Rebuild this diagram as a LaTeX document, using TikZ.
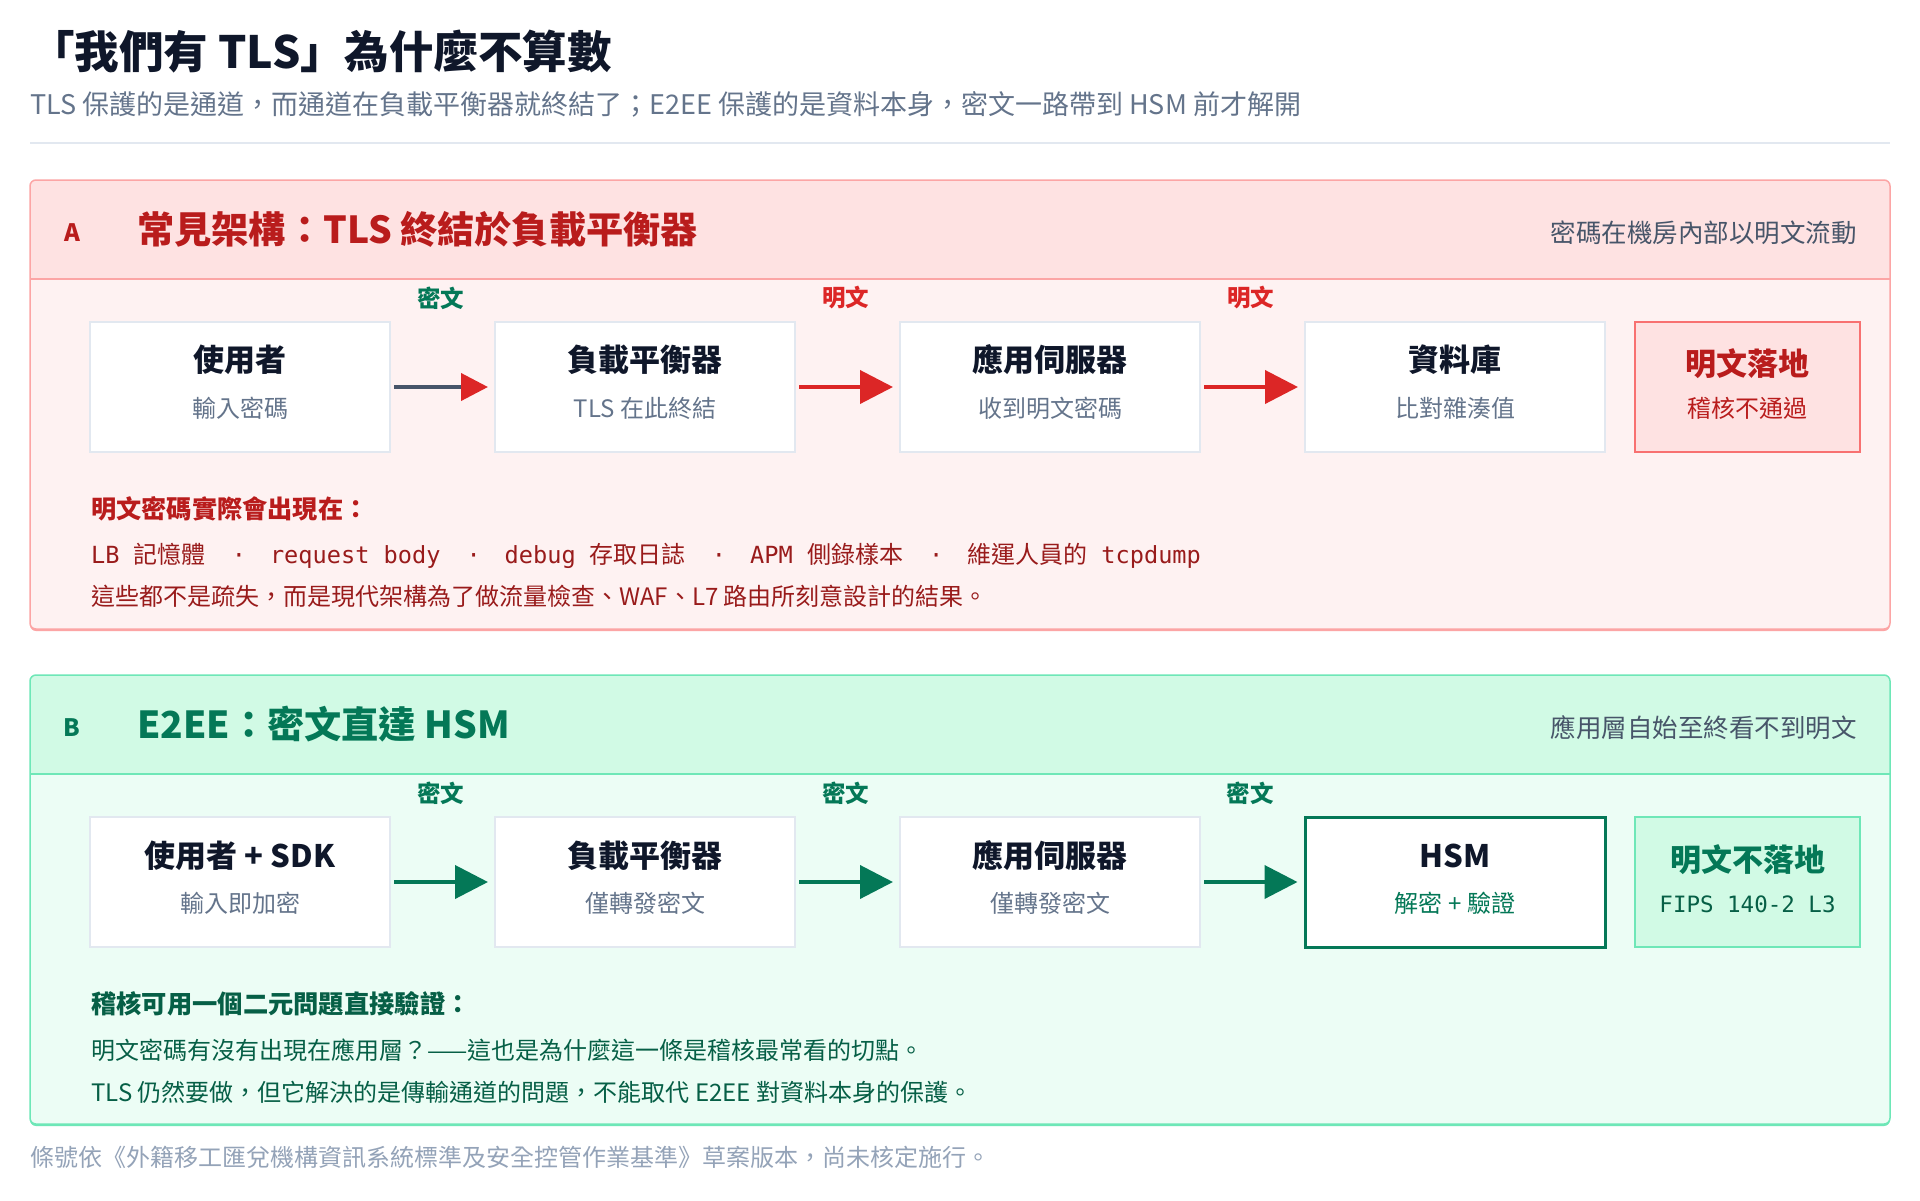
\documentclass[tikz,border=0pt]{standalone}
\usepackage{fontspec}
\setmainfont{Noto Sans CJK TC}
\newfontfamily\monof{DejaVu Sans Mono}
\usetikzlibrary{arrows.meta,calc}
\definecolor{ink}{HTML}{0F172A}
\definecolor{slate}{HTML}{64748B}
\definecolor{slatedk}{HTML}{475569}
\definecolor{rulec}{HTML}{E2E8F0}
\definecolor{boxline}{HTML}{E2E8F0}
\definecolor{redborder}{HTML}{FCA5A5}
\definecolor{redhead}{HTML}{FEE2E2}
\definecolor{redbody}{HTML}{FEF2F2}
\definecolor{redtitle}{HTML}{B91C1C}
\definecolor{redarrow}{HTML}{DC2626}
\definecolor{redtext}{HTML}{991B1B}
\definecolor{redline}{HTML}{F87171}
\definecolor{grnborder}{HTML}{6EE7B7}
\definecolor{grnhead}{HTML}{D1FAE5}
\definecolor{grnbody}{HTML}{ECFDF5}
\definecolor{grn}{HTML}{047857}
\definecolor{grntext}{HTML}{065F46}
\definecolor{footc}{HTML}{94A3B8}
\newcommand\myfs[1]{\fontsize{#1pt}{#1pt}\selectfont}
\newcommand\cj[1]{{\rmfamily\myfs{24}#1}}
\newcommand\msep{\hspace{26pt}·\hspace{24pt}}
\begin{document}
\begin{tikzpicture}[x=1pt,y=-1pt,
  every node/.style={inner sep=0pt},
  tx/.style={anchor=west},
  flowbox/.style={draw=boxline, line width=2pt, fill=white, minimum width=300pt, minimum height=130pt},
  redside/.style={draw=redline, line width=2pt, fill=redhead, minimum width=225pt, minimum height=130pt},
  hsmbox/.style={draw=grn, line width=3pt, fill=white, minimum width=300pt, minimum height=130pt},
  grnside/.style={draw=grnborder, line width=2.5pt, fill=grnhead, minimum width=225pt, minimum height=130pt},
  btitle/.style={font=\bfseries\myfs{31}, text=ink},
  bsub/.style={font=\myfs{24}, text=slate},
  flow/.style={line width=4pt, shorten <=3pt, shorten >=6pt},
  bighead/.style={-{Triangle[length=33pt,width=33pt]}},
  lbl/.style={font=\bfseries\myfs{23.5}},
  hdtitle/.style={tx, font=\bfseries\myfs{37.2}},
  hdnote/.style={anchor=east, font=\myfs{25.5}, text=slatedk},
  hdlab/.style={font=\bfseries\myfs{24}}
]
\useasboundingbox[fill=white] (0,0) rectangle (1920,1200);

% heading
\node[tx, font=\bfseries\myfs{44.5}, text=ink] (title) at (30,52) {「我們有 TLS」為什麼不算數};
\node[tx, font=\myfs{27}, text=slate] (subtitle) at (30,104) {TLS 保護的是通道，而通道在負載平衡器就終結了；E2EE 保護的是資料本身，密文一路帶到 HSM 前才解開};
\draw[rulec, line width=2pt] (30,143) -- (1890,143);

% ---------- Panel A ----------
\fill[redborder, rounded corners=6pt] (30,182) rectangle (1890,631);
\begin{scope}
\clip[rounded corners=6pt] (30,180) rectangle (1890,629);
\fill[redbody] (30,180) rectangle (1890,629);
\fill[redhead] (30,180) rectangle (1890,279);
\draw[redborder, line width=2pt] (30,279) -- (1890,279);
\end{scope}
\draw[redborder, line width=1.5pt, rounded corners=6pt] (30,180) rectangle (1890,629);

\node[hdlab, text=redtitle] (Alab) at (72,233) {A};
\node[hdtitle, text=redtitle] (Atitle) at (137,229) {常見架構：TLS 終結於負載平衡器};
\node[hdnote] (Anote) at (1857,233) {密碼在機房內部以明文流動};

\node[flowbox] (a1) at (240,387) {};
\node[btitle] (a1t) at ($(a1.center)+(0,-27)$) {使用者};
\node[bsub] (a1s) at ($(a1.center)+(0,21)$) {輸入密碼};
\node[flowbox] (a2) at (645,387) {};
\node[btitle] (a2t) at ($(a2.center)+(0,-27)$) {負載平衡器};
\node[bsub] (a2s) at ($(a2.center)+(0,21)$) {TLS 在此終結};
\node[flowbox] (a3) at (1050,387) {};
\node[btitle] (a3t) at ($(a3.center)+(0,-27)$) {應用伺服器};
\node[bsub] (a3s) at ($(a3.center)+(0,21)$) {收到明文密碼};
\node[flowbox] (a4) at (1455,387) {};
\node[btitle] (a4t) at ($(a4.center)+(0,-27)$) {資料庫};
\node[bsub] (a4s) at ($(a4.center)+(0,21)$) {比對雜湊值};
\node[redside] (a5) at (1747.5,387) {};
\node[btitle, text=redtitle] (a5t) at ($(a5.center)+(0,-23)$) {明文落地};
\node[bsub, text=redtitle] (a5s) at ($(a5.center)+(0,21)$) {稽核不通過};

\draw[flow, slatedk, -{Triangle[length=27pt,width=27pt,color=redarrow]}] (a1) -- (a2);
\draw[flow, redarrow, bighead] (a2) -- (a3);
\draw[flow, redarrow, bighead] (a3) -- (a4);
\node[lbl, text=grn] (la1) at ($(a1.east)!0.5!(a2.west)+(-2,-89)$) {密文};
\node[lbl, text=redarrow] (la2) at ($(a2.east)!0.5!(a3.west)+(-2,-89)$) {明文};
\node[lbl, text=redarrow] (la3) at ($(a3.east)!0.5!(a4.west)+(-2,-89)$) {明文};

\node[tx, font=\bfseries\myfs{25.2}, text=redtitle] (Ahead) at (91,509) {明文密碼實際會出現在：};
\node[tx, font=\monof\myfs{23.6}, text=redtext] (Amono) at (91,556) {LB \cj{記憶體}\msep request body\msep debug \cj{存取日誌}\msep APM \cj{側錄樣本}\msep\cj{維運人員的} tcpdump};
\node[tx, font=\myfs{24}, text=redtext] (Abody) at (91,596) {這些都不是疏失，而是現代架構為了做流量檢查、WAF、L7 路由所刻意設計的結果。};

% ---------- Panel B ----------
\fill[grnborder, rounded corners=6pt] (30,677) rectangle (1890,1126);
\begin{scope}
\clip[rounded corners=6pt] (30,675) rectangle (1890,1124);
\fill[grnbody] (30,675) rectangle (1890,1124);
\fill[grnhead] (30,675) rectangle (1890,774);
\draw[grnborder, line width=2pt] (30,774) -- (1890,774);
\end{scope}
\draw[grnborder, line width=1.5pt, rounded corners=6pt] (30,675) rectangle (1890,1124);

\node[hdlab, text=grn] (Blab) at (72,728) {B};
\node[hdtitle, text=grn] (Btitle) at (137,724) {E2EE：密文直達 HSM};
\node[hdnote] (Bnote) at (1857,728) {應用層自始至終看不到明文};

\node[flowbox] (b1) at (240,882) {};
\node[btitle] (b1t) at ($(b1.center)+(0,-26)$) {使用者 + SDK};
\node[bsub] (b1s) at ($(b1.center)+(0,21)$) {輸入即加密};
\node[flowbox] (b2) at (645,882) {};
\node[btitle] (b2t) at ($(b2.center)+(0,-26)$) {負載平衡器};
\node[bsub] (b2s) at ($(b2.center)+(0,21)$) {僅轉發密文};
\node[flowbox] (b3) at (1050,882) {};
\node[btitle] (b3t) at ($(b3.center)+(0,-26)$) {應用伺服器};
\node[bsub] (b3s) at ($(b3.center)+(0,21)$) {僅轉發密文};
\node[hsmbox] (b4) at (1455,882) {};
\node[btitle] (b4t) at ($(b4.center)+(0,-26)$) {HSM};
\node[bsub, text=grn] (b4s) at ($(b4.center)+(0,21)$) {解密 + 驗證};
\node[grnside] (b5) at (1747.5,882) {};
\node[btitle, text=grn] (b5t) at ($(b5.center)+(0,-22)$) {明文不落地};
\node[font=\monof\myfs{22.5}, text=grntext] (b5s) at ($(b5.center)+(0,22)$) {FIPS 140-2 L3};

\draw[flow, grn, bighead] (b1) -- (b2);
\draw[flow, grn, bighead] (b2) -- (b3);
\draw[flow, grn, bighead] (b3) -- (b4);
\node[lbl, text=grn] (lb1) at ($(b1.east)!0.5!(b2.west)+(-2,-89)$) {密文};
\node[lbl, text=grn] (lb2) at ($(b2.east)!0.5!(b3.west)+(-2,-89)$) {密文};
\node[lbl, text=grn] (lb3) at ($(b3.east)!0.5!(b4.west)+(-2,-89)$) {密文};

\node[tx, font=\bfseries\myfs{25.3}, text=grntext] (Bhead) at (91,1004) {稽核可用一個二元問題直接驗證：};
\node[tx, font=\myfs{24}, text=grntext] (Bbody1) at (91,1050) {明文密碼有沒有出現在應用層？——這也是為什麼這一條是稽核最常看的切點。};
\node[tx, font=\myfs{24}, text=grntext] (Bbody2) at (91,1092) {TLS 仍然要做，但它解決的是傳輸通道的問題，不能取代 E2EE 對資料本身的保護。};

% footer
\node[tx, font=\myfs{24}, text=footc] (foot) at (30,1157) {條號依《外籍移工匯兌機構資訊系統標準及安全控管作業基準》草案版本，尚未核定施行。};
\end{tikzpicture}
\end{document}
